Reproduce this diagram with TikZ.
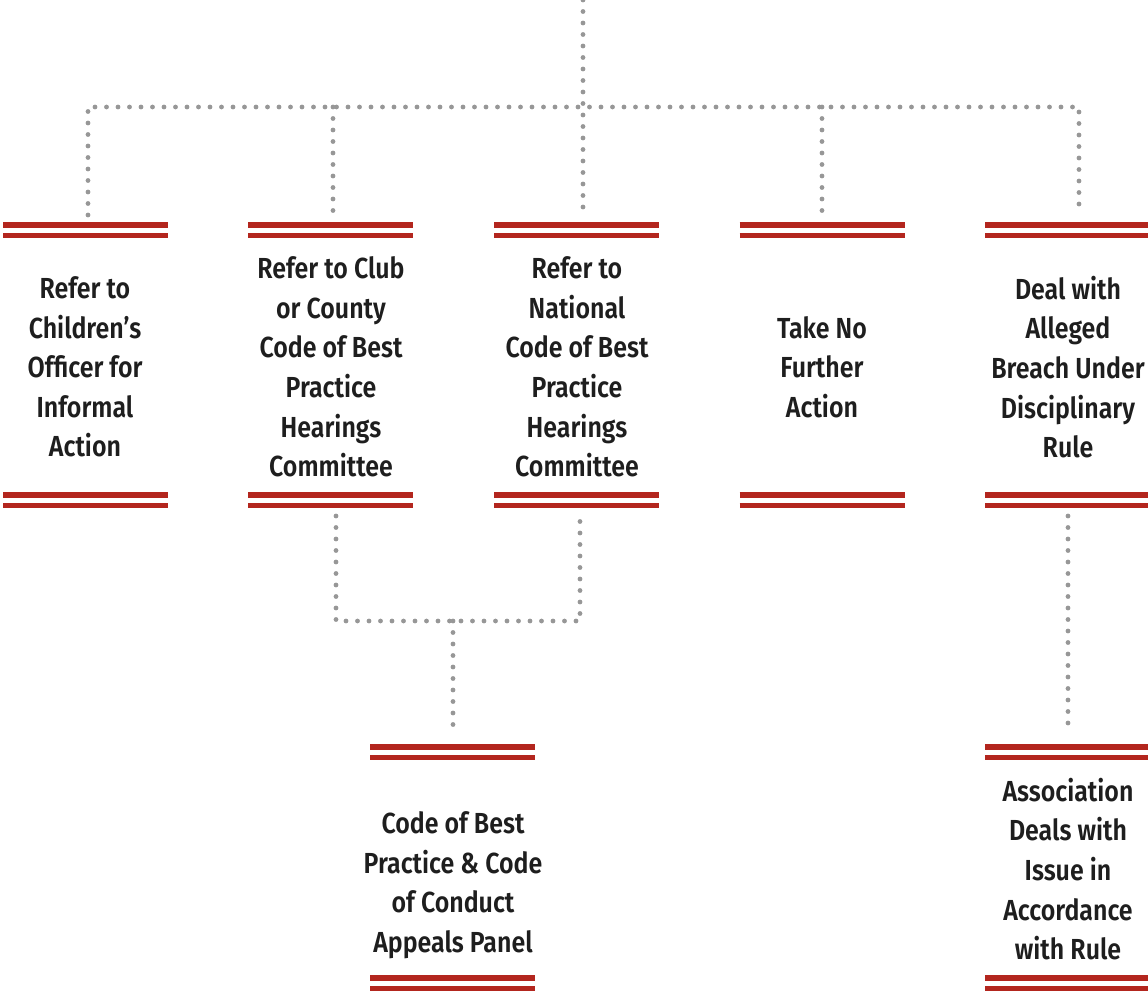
\documentclass[tikz,border=0pt]{standalone}
\usepackage{fontspec}
\setmainfont{Fira Sans}[UprightFont=* SemiBold, BoldFont=* Bold, FakeStretch=0.86]
\usetikzlibrary{calc}
\definecolor{barred}{HTML}{B3261E}
\definecolor{dotgray}{HTML}{979797}
\definecolor{ink}{HTML}{1E1E1E}

\tikzset{
  dots/.style={dotgray, line width=2.4pt, line cap=round, dash pattern=on 0pt off 5.75pt},
  bar/.style={barred, line width=2.6pt},
  txt/.style={ink, align=center, font=\fontsize{14.5}{19.8}\selectfont}
}

\begin{document}
\begin{tikzpicture}[x=0.5pt, y=-0.5pt]
\useasboundingbox (0,0) rectangle (1148,993);

% text of the boxes
\node[txt] (r1) at (85,367) {Refer to\\Children's\\Officer for\\Informal\\Action};
\node[txt] (r2) at (331,367) {Refer to Club\\or County\\Code of Best\\Practice\\Hearings\\Committee};
\node[txt] (r3) at (577,367) {Refer to\\National\\Code of Best\\Practice\\Hearings\\Committee};
\node[txt] (r4) at (822,367) {Take No\\Further\\Action};
\node[txt] (r5) at (1068,367) {Deal with\\Alleged\\Breach Under\\Disciplinary\\Rule};
\node[txt] (appeal) at (453,885) {Code of Best\\Practice \& Code\\of Conduct\\Appeals Panel};
\node[txt] (assoc) at (1068,869) {Association\\Deals with\\Issue in\\Accordance\\with Rule};

% double bars above and below
\foreach \x/\t/\b in {85.5/225/495, 330.5/225/495, 576.5/225/495, 822/225/495, 1067.5/225/495, 452.5/747/978, 1067.5/747/978}
{
    \draw[bar] (\x-82.5,\t) -- (\x+82.5,\t);
    \draw[bar] (\x-82.5,\t+10.5) -- (\x+82.5,\t+10.5);
    \draw[bar] (\x-82.5,\b) -- (\x+82.5,\b);
    \draw[bar] (\x-82.5,\b+10.5) -- (\x+82.5,\b+10.5);
}

% ends of the dotted connectors
\coordinate (top) at (583,0);
\coordinate (hub) at (583,107);
\coordinate (t1) at (88,215);
\coordinate (t2) at (333,215);
\coordinate (t3) at (583,215);
\coordinate (t4) at (822,215);
\coordinate (t5) at (1079,215);
\coordinate (b2) at (336,516);
\coordinate (b3) at (580,516);
\coordinate (b5) at (1068,516);
\coordinate (join) at (453,621);
\coordinate (a1) at (453,730);
\coordinate (a2) at (1068,730);

\draw[dots] (top) -- (t3);
\draw[dots] (t1) -- (t1 |- hub) -- (t5 |- hub) -- (t5);
\foreach \c in {t2, t4}
    \draw[dots] (\c |- hub) -- (\c);
\draw[dots] (b2) -- (b2 |- join) -- (b3 |- join) -- (b3);
\draw[dots] (join) -- (a1);
\draw[dots] (b5) -- (a2);

\end{tikzpicture}
\end{document}
